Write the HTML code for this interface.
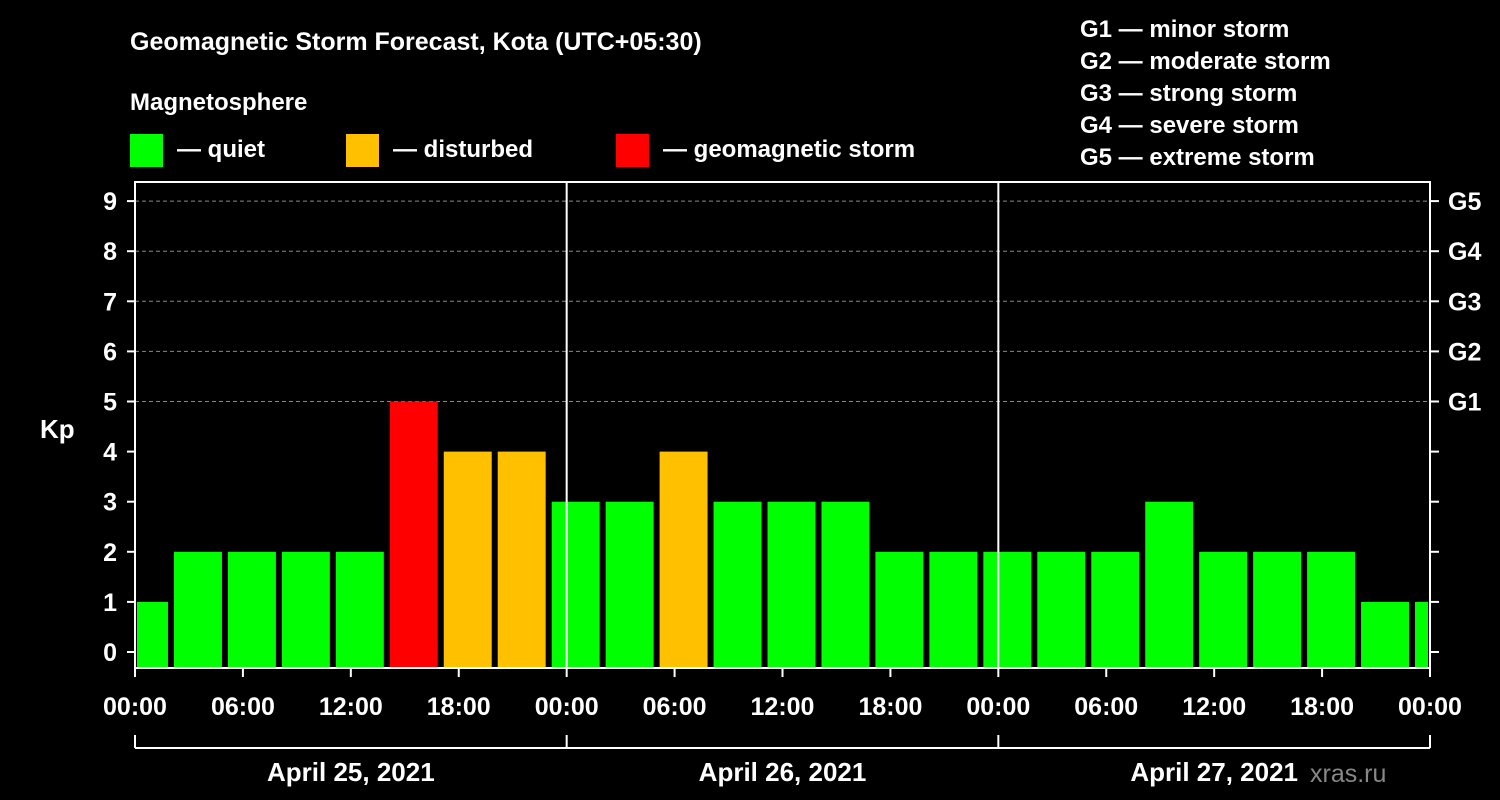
<!DOCTYPE html>
<html><head><meta charset="utf-8"><style>
body{margin:0;background:#000;}
svg{display:block;font-family:"Liberation Sans",Arial,sans-serif;font-weight:bold;}
</style></head><body>
<svg id="chart" width="1500" height="800" viewBox="0 0 1500 800">
<rect width="1500" height="800" fill="#000"/>
<text x="130" y="50" fill="#fff" font-size="25">Geomagnetic Storm Forecast, Kota (UTC+05:30)</text>
<text x="130" y="110" fill="#fff" font-size="24">Magnetosphere</text>
<g><rect x="130" y="134" width="33" height="33" fill="#00ff00"/><text x="177" y="157" fill="#fff" font-size="24">— quiet</text></g>
<g><rect x="346" y="134" width="33" height="33" fill="#ffc000"/><text x="393" y="157" fill="#fff" font-size="24">— disturbed</text></g>
<g><rect x="616" y="134" width="33" height="33" fill="#ff0000"/><text x="663" y="157" fill="#fff" font-size="24">— geomagnetic storm</text></g>
<g font-size="24" fill="#fff">
<text x="1080" y="37">G1 — minor storm</text>
<text x="1080" y="69">G2 — moderate storm</text>
<text x="1080" y="101">G3 — strong storm</text>
<text x="1080" y="133">G4 — severe storm</text>
<text x="1080" y="165">G5 — extreme storm</text>
</g>
<text x="40" y="438" fill="#fff" font-size="26">Kp</text>
<text x="1310" y="782" fill="#888" font-size="25" font-weight="normal">xras.ru</text>
<g id="grid"></g><g id="bars"></g><g id="axes"></g>
</svg>
<script>
const kpValues=[1,2,2,2,2,5,4,4,3,3,4,3,3,3,2,2,2,2,2,3,2,2,2,1,1];
const yTicks=[0,1,2,3,4,5,6,7,8,9];
const gLabels=["G1","G2","G3","G4","G5"];
const xTickLabels=["00:00","06:00","12:00","18:00","00:00","06:00","12:00","18:00","00:00","06:00","12:00","18:00","00:00"];
const dayLabels=["April 25, 2021","April 26, 2021","April 27, 2021"];
const NS="http://www.w3.org/2000/svg";
const L=135,R=1430,T=182,B=668;
const y=v=>652-v*50.1;
const x=h=>L+(R-L)*h/72;
function mk(tag,attrs,parent,txt){const e=document.createElementNS(NS,tag);for(const k in attrs)e.setAttribute(k,attrs[k]);if(txt!==undefined)e.textContent=txt;document.getElementById(parent).appendChild(e);return e;}
// grid
yTicks.forEach(v=>{if(v>=5){const g=mk('line',{x1:L,x2:R,y1:y(v),y2:y(v),stroke:'#888','stroke-dasharray':'4,3','stroke-width':1},'grid');

}});
// bars: first partial bin 0..2h, then 3h bins
kpValues.forEach((v,i)=>{let h0=i===0?0:2+3*(i-1),h1=Math.min(2+3*i,72);
let x0=x(h0)+3,x1=x(h1)-3;if(i===0)x0=x(h0)+2;if(h1===72)x1=x(h1)-2;
const c=v>=5?'#ff0000':v>=4?'#ffc000':'#00ff00';
const r=mk('rect',{x:x0,y:y(v),width:x1-x0,height:B-y(v),fill:c},'bars');

});
// axes
const f=mk('rect',{x:L,y:T,width:R-L,height:B-T,fill:'none',stroke:'#fff','stroke-width':2},'axes');


[24,48].forEach(h=>{const l=mk('line',{x1:x(h),x2:x(h),y1:T,y2:B,stroke:'#fff','stroke-width':2},'axes');

});
yTicks.forEach(v=>{mk('line',{x1:L-8,x2:L,y1:y(v),y2:y(v),stroke:'#fff','stroke-width':2},'axes');
mk('line',{x1:R,x2:R+9,y1:y(v),y2:y(v),stroke:'#fff','stroke-width':2},'axes');
const t=mk('text',{x:L-18,y:y(v)+9,fill:'#fff','font-size':25,'text-anchor':'end'},'axes',String(v));

});
gLabels.forEach((g,i)=>{const t=mk('text',{x:1448,y:y(5+i)+9,fill:'#fff','font-size':25},'axes',g);

});
xTickLabels.forEach((s,i)=>{const xx=x(i*6);mk('line',{x1:xx,x2:xx,y1:B,y2:B+9,stroke:'#fff','stroke-width':2},'axes');
const t=mk('text',{x:xx,y:715,fill:'#fff','font-size':25,'text-anchor':'middle'},'axes',s);

});
mk('line',{x1:L,x2:R,y1:748,y2:748,stroke:'#fff','stroke-width':2},'axes');
[0,24,48,72].forEach(h=>mk('line',{x1:x(h),x2:x(h),y1:735,y2:748,stroke:'#fff','stroke-width':2},'axes'));
dayLabels.forEach((d,i)=>{const t=mk('text',{x:x(i*24+12),y:781,fill:'#fff','font-size':26,'text-anchor':'middle'},'axes',d);

});
</script>
</body></html>
